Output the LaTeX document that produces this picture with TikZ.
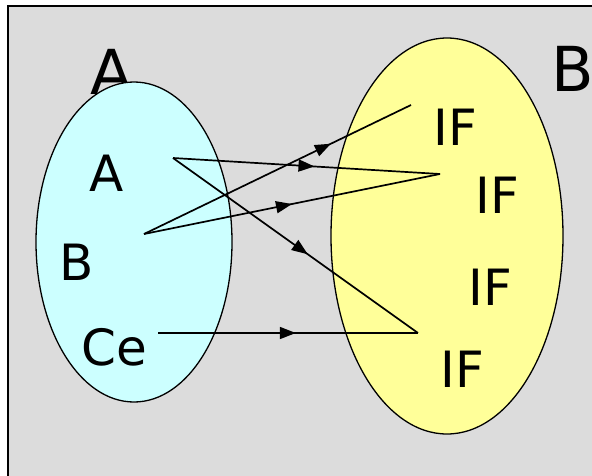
\documentclass[tikz,border=0pt]{standalone}
\usepackage{fontspec}
\setmainfont{DejaVu Sans}
\usetikzlibrary{arrows.meta,decorations.markings,shapes.geometric}
\definecolor{panel}{HTML}{DCDCDC}
\definecolor{setA}{HTML}{CCFFFF}
\definecolor{setB}{HTML}{FFFF99}
\tikzset{
  setshape/.style={ellipse, draw=black, line width=1.3pt, inner sep=0pt},
  elem/.style={font=\fontsize{50}{56}\selectfont, inner sep=0pt},
  setname/.style={font=\fontsize{62}{70}\selectfont, inner sep=0pt},
  maparrow/.style={line width=1.7pt, postaction={decorate},
    decoration={markings, mark=at position #1 with {\arrow{Triangle[length=16pt,width=12pt]}}}}
}
\begin{document}
\begin{tikzpicture}[x=1pt,y=-1pt]
\useasboundingbox (0,0) rectangle (592,475);
\clip (0,0) rectangle (592,475);
% framed grey panel
\fill[white] (0,0) rectangle (592,475);
\draw[fill=panel, line width=2pt] (8,6) rectangle (610,490);
% set names
\node[setname] (nameA) at (112,72) {A};
\node[setname] (nameB) at (573,69) {B};
% the two sets
\node[setshape, fill=setA, minimum width=196pt, minimum height=320pt] (setA) at (134,242) {};
\node[setshape, fill=setB, minimum width=232pt, minimum height=396pt] (setB) at (447,236) {};
% elements of A
\node[elem] (a) at (107,173) {A};
\node[elem] (b) at (77,262) {B};
\node[elem] (ce) at (114,347) {Ce};
% elements of B
\node[elem] (if1) at (455,127) {IF};
\node[elem] (if2) at (497,195) {IF};
\node[elem] (if3) at (490,287) {IF};
\node[elem] (if4) at (462,369) {IF};
% arrow end points
\coordinate (a-out) at (173,158);
\coordinate (b-out) at (144,234);
\coordinate (ce-out) at (158,333);
\coordinate (if1-in) at (411,105);
\coordinate (if2-in) at (440,174);
\coordinate (if4-in) at (418,333);
% mapping
\draw[maparrow=0.53] (a-out) -- (if2-in);
\draw[maparrow=0.55] (a-out) -- (if4-in);
\draw[maparrow=0.70] (b-out) -- (if1-in);
\draw[maparrow=0.50] (b-out) -- (if2-in);
\draw[maparrow=0.53] (ce-out) -- (if4-in);
\end{tikzpicture}
\end{document}
